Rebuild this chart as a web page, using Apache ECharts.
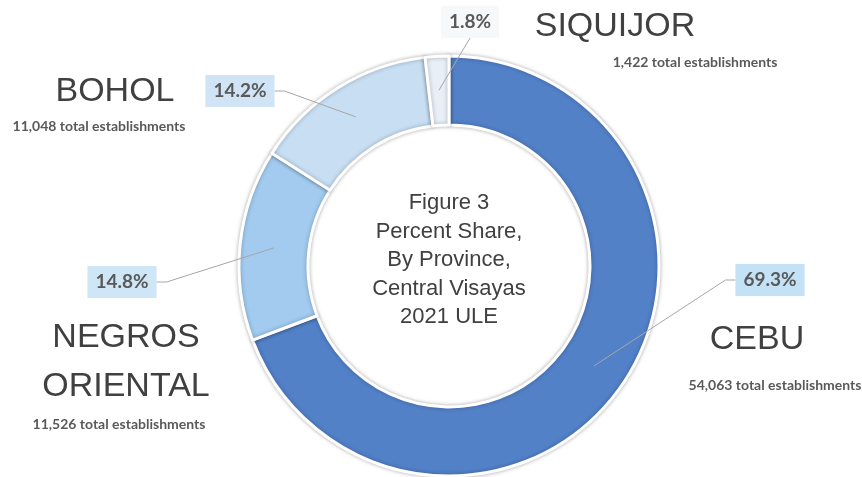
<!DOCTYPE html>
<html>
<head>
<meta charset="UTF-8">
<title>Figure 3 - Percent Share by Province</title>
<script src="https://cdn.jsdelivr.net/npm/echarts@6/dist/echarts.min.js"></script>
<style>
  html, body { margin: 0; padding: 0; background: #fff; }
  #main { width: 862px; height: 477px; }
</style>
</head>
<body>
<div id="main"></div>
<script>
// data
var provinces = ['CEBU', 'NEGROS ORIENTAL', 'BOHOL', 'SIQUIJOR'];
var establishments = [54063, 11526, 11048, 1422];
var sliceColors = ['#5281c8', '#a2cbef', '#c8def3', '#e9eff6'];
var boxColors = ['#c3e2f6', '#cfe6f7', '#d0e4f5', '#f6f8fa'];
var centerTitle = ['Figure 3', 'Percent Share,', 'By Province,', 'Central Visayas', '2021 ULE'];

var total = establishments.reduce(function (a, b) { return a + b; }, 0);

// where each percent box sits and which side the leader line enters
var percentSpots = [
    { x: 770, y: 280, side: 'left' },
    { x: 122, y: 282, side: 'right' },
    { x: 240, y: 91, side: 'right' },
    { x: 470, y: 22, side: 'bottom' }
];
// province name + count blocks (name centre, count centre)
var nameSpots = [
    { x: 757, y: 340, cx: 775, cy: 385 },
    { x: 126, y: 362, cx: 119, cy: 424 },
    { x: 115, y: 92, cx: 99, cy: 126 },
    { x: 615, y: 27, cx: 695, cy: 62 }
];

var pieCenter = [449, 266];

var myChart = echarts.init(document.getElementById('main'));

var ringData = provinces.map(function (p, i) {
    return { name: p, value: establishments[i], itemStyle: { color: sliceColors[i] } };
});

var pctData = provinces.map(function (p, i) {
    return {
        name: p,
        value: establishments[i],
        label: { backgroundColor: boxColors[i] }
    };
});

var graphics = [{
    type: 'text',
    x: pieCenter[0],
    y: 260,
    style: {
        text: centerTitle.join('\n'),
        font: '22px "Liberation Sans", Arial, sans-serif',
        fill: '#404040',
        textAlign: 'center',
        textVerticalAlign: 'middle',
        lineHeight: 28.5
    }
}];

provinces.forEach(function (p, i) {
    var s = nameSpots[i];
    graphics.push({
        type: 'text',
        x: s.x,
        y: s.y,
        style: {
            text: p.split(' ').join('\n'),
            font: '34px "Liberation Sans", Arial, sans-serif',
            fill: '#404040',
            textAlign: 'center',
            textVerticalAlign: 'middle',
            lineHeight: 49
        }
    });
    graphics.push({
        type: 'text',
        x: s.cx,
        y: s.cy,
        style: {
            text: establishments[i].toLocaleString('en-US') + ' total establishments',
            font: 'bold 14px Lato, "Open Sans", sans-serif',
            fill: '#595959',
            textAlign: 'center',
            textVerticalAlign: 'middle'
        }
    });
});

var option = {
    animation: false,
    graphic: graphics,
    series: [
        {
            type: 'pie',
            center: pieCenter,
            radius: [141, 210],
            startAngle: 90,
            silent: true,
            label: { show: false },
            labelLine: { show: false },
            itemStyle: {
                borderColor: '#fff',
                borderWidth: 3,
                shadowBlur: 4,
                shadowColor: 'rgba(0,0,0,0.28)'
            },
            data: ringData
        },
        {
            // invisible pie reaching to the middle of the ring, only used to
            // anchor the percent labels and their leader lines
            type: 'pie',
            center: pieCenter,
            radius: [0, 176],
            startAngle: 90,
            silent: true,
            z: 3,
            avoidLabelOverlap: false,
            itemStyle: { color: 'rgba(0,0,0,0)' },
            label: {
                show: true,
                position: 'outside',
                formatter: function (p) {
                    return (p.value / total * 100).toFixed(1) + '%';
                },
                fontFamily: 'Lato, sans-serif',
                fontWeight: 'bold',
                fontSize: 19,
                color: '#595959',
                padding: [7, 8, 6, 8]
            },
            labelLine: {
                show: true,
                length: 10,
                length2: 10,
                lineStyle: { color: '#a6a6a6', width: 1 }
            },
            labelLayout: function (params) {
                var s = percentSpots[params.dataIndex];
                var w = params.labelRect.width;
                var h = params.labelRect.height;
                var pts = params.labelLinePoints;
                var end, bend;
                if (s.side === 'left') {
                    end = [s.x - w / 2, s.y];
                    bend = [end[0] - 10, s.y];
                } else if (s.side === 'right') {
                    end = [s.x + w / 2, s.y];
                    bend = [end[0] + 10, s.y];
                } else {
                    end = [s.x, s.y + h / 2];
                    bend = [end[0], end[1]];
                }
                var out = { x: s.x, y: s.y, align: 'center', verticalAlign: 'middle' };
                if (pts) out.labelLinePoints = [pts[0], bend, end];
                return out;
            },
            data: pctData
        }
    ]
};

myChart.setOption(option);
</script>
</body>
</html>
